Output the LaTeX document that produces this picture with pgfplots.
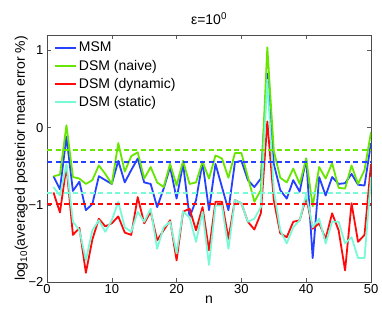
\documentclass[border=0pt]{standalone}
\usepackage{pgfplots}
\pgfplotsset{compat=1.18}
\usepackage{fontspec}
\setmainfont{Liberation Sans}
\definecolor{cMSM}{RGB}{38,64,255}
\definecolor{cNaive}{RGB}{102,230,0}
\definecolor{cDyn}{RGB}{255,10,10}
\definecolor{cStat}{RGB}{120,250,215}
\pgfplotstableread{
n msm naive dyn stat
1 -0.63 -0.63 -0.84 -0.77
2 -0.80 -0.61 -1.10 -0.88
3 -0.12 0.03 -0.50 -0.47
4 -0.82 -0.64 -1.39 -1.22
5 -0.70 -0.66 -1.30 -1.33
6 -1.07 -0.73 -1.88 -1.72
7 -0.99 -0.68 -1.45 -1.33
8 -0.63 -0.49 -1.18 -1.20
9 -0.68 -0.60 -1.28 -1.35
10 -0.73 -0.73 -1.24 -1.20
11 -0.43 -0.20 -1.15 -0.96
12 -0.71 -0.57 -1.36 -1.29
13 -0.55 -0.37 -1.39 -1.35
14 -0.40 -0.32 -0.90 -1.09
15 -0.71 -0.66 -1.24 -1.22
16 -0.73 -0.51 -1.09 -1.05
17 -1.03 -0.71 -1.46 -1.57
18 -0.79 -0.77 -1.33 -1.29
19 -0.51 -0.47 -1.20 -1.22
20 -0.92 -0.75 -1.72 -1.63
21 -0.47 -0.43 -1.09 -1.09
22 -1.16 -0.73 -1.05 -1.16
23 -0.94 -0.71 -1.33 -1.48
24 -0.45 -0.44 -1.03 -1.09
25 -1.07 -0.66 -1.59 -1.78
26 -0.47 -0.36 -0.96 -1.01
27 -0.77 -0.40 -0.96 -1.01
28 -1.07 -0.65 -1.44 -1.57
29 -0.45 -0.33 -0.94 -0.94
30 -0.43 -0.33 -0.98 -0.98
31 -0.68 -0.64 -1.22 -1.22
32 -0.77 -0.96 -1.32 -1.18
33 -0.66 -0.81 -1.11 -1.03
34 0.70 1.04 0.08 0.62
35 -0.47 -0.30 -0.94 -0.81
36 -0.81 -0.65 -1.37 -1.33
37 -0.92 -0.71 -1.42 -1.50
38 -0.68 -0.53 -1.22 -1.29
39 -0.83 -0.73 -1.20 -1.20
40 -0.40 -0.40 -0.90 -0.86
41 -1.69 -1.02 -1.31 -1.29
42 -0.64 -0.51 -1.24 -1.18
43 -0.88 -0.66 -1.44 -1.50
44 -0.64 -0.46 -1.11 -1.22
45 -0.73 -0.78 -1.33 -1.22
46 -0.72 -0.79 -1.85 -1.50
47 -0.60 -0.49 -0.98 -1.42
48 -0.74 -0.73 -1.48 -1.69
49 -0.75 -0.55 -1.39 -1.69
50 -0.20 -0.06 -0.47 -0.64
}\datatable
\begin{document}
\begin{tikzpicture}
\begin{axis}[
  scale only axis,
  width=324pt, height=247pt,
  xmin=0, xmax=50, ymin=-2, ymax=1.2,
  xtick={0,10,20,30,40,50},
  ytick={-2,-1,0,1},
  yticklabels={−2,−1,0,1},
  tick align=inside,
  major tick length=4pt,
  tick style={gray!70!black, line width=0.5pt},
  axis line style={gray!60!black, line width=0.6pt},
  /pgf/number format/assume math mode=true,
  tick label style={font=\fontsize{13}{15}\selectfont},
  xticklabel style={yshift=1pt},
  label style={font=\fontsize{14}{16}\selectfont},
  title style={font=\fontsize{14}{16}\selectfont, yshift=1pt},
  title={ε=10\textsuperscript{0}},
  xlabel={n},
  ylabel={log\textsubscript{10}(averaged posterior mean error \%)},
  xlabel style={yshift=5pt},
  ylabel style={yshift=-6pt},
  legend style={at={(0,1)}, anchor=north west, draw=none, fill=none,
    font=\fontsize{14}{16}\selectfont, row sep=2.5pt, xshift=4pt, yshift=-3pt},
  legend cell align=left,
  legend image code/.code={\draw[#1] (0pt,0pt) -- (21pt,0pt);},
]
\addlegendimage{color=cMSM, line width=1.8pt}
\addlegendentry{MSM}
\addlegendimage{color=cNaive, line width=1.8pt}
\addlegendentry{DSM (naive)}
\addlegendimage{color=cDyn, line width=1.8pt}
\addlegendentry{DSM (dynamic)}
\addlegendimage{color=cStat, line width=1.8pt}
\addlegendentry{DSM (static)}
\addplot[forget plot, color=cMSM, line width=1.8pt, line join=round] table[x=n,y=msm]{\datatable};
\addplot[forget plot, color=cNaive, line width=1.8pt, line join=round] table[x=n,y=naive]{\datatable};
\addplot[forget plot, color=cDyn, line width=1.8pt, line join=round] table[x=n,y=dyn]{\datatable};
\addplot[forget plot, color=cStat, line width=1.8pt, line join=round] table[x=n,y=stat]{\datatable};
\addplot[forget plot, color=cNaive, line width=1.8pt, dash pattern=on 5pt off 3.5pt] coordinates {(0,-0.29) (50,-0.29)};
\addplot[forget plot, color=cMSM, line width=1.8pt, dash pattern=on 5pt off 3.5pt] coordinates {(0,-0.45) (50,-0.45)};
\addplot[forget plot, color=cStat, line width=1.8pt, dash pattern=on 5pt off 3.5pt] coordinates {(0,-0.85) (50,-0.85)};
\addplot[forget plot, color=cDyn, line width=1.8pt, dash pattern=on 5pt off 3.5pt] coordinates {(0,-0.99) (50,-0.99)};
\end{axis}
\path ([xshift=-47pt,yshift=-35pt]current axis.south west) rectangle ([xshift=11pt,yshift=35pt]current axis.north east);
\end{tikzpicture}
\end{document}
